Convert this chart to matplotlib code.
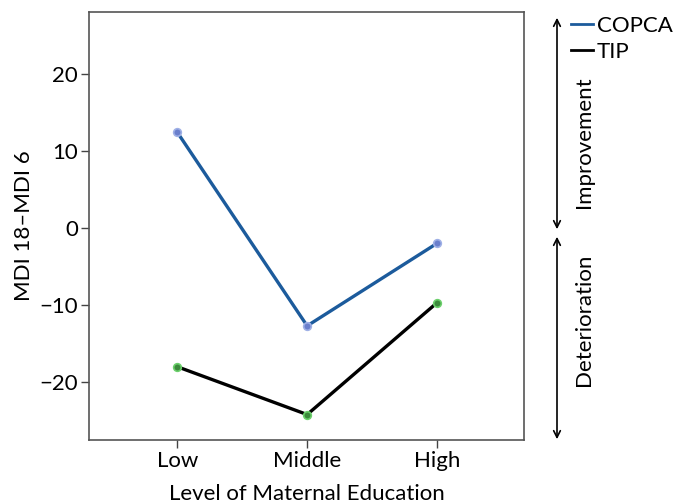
import matplotlib
matplotlib.use("Agg")
import matplotlib.pyplot as plt

categories = ["Low", "Middle", "High"]
copca = [12.4, -12.7, -2.0]
tip = [-18.0, -24.2, -9.7]
yticks = [-20, -10, 0, 10, 20]

plt.rcParams['font.family'] = ['Lato', 'DejaVu Sans']
FS = 16

fig = plt.figure(figsize=(6.77, 5.04), dpi=100)
ax = fig.add_axes([89/677, 1-440/504, (524-89)/677, (440-12)/504])

x = list(range(1, len(categories)+1))
ax.plot(x, copca, color='#1c5b9c', lw=2.4, marker='o', ms=5.5,
        mfc='#6a7fcc', mec='#9fb0e6', mew=1.2, label='COPCA', zorder=3)
ax.plot(x, tip, color='black', lw=2.4, marker='o', ms=5.5,
        mfc='#3c8a3c', mec='#6cd06c', mew=1.2, label='TIP', zorder=3)

ax.set_xlim(0.32, 3.67)
ax.set_ylim(-27.5, 28.0)
ax.set_xticks(x)
ax.set_xticklabels(categories)
ax.set_yticks(yticks)
ax.set_yticklabels([str(v).replace('-', '\u2212') for v in yticks])
ax.tick_params(axis='both', labelsize=FS, length=6, width=1, color='#444444', pad=2)
for s in ax.spines.values():
    s.set_color('#555555')
    s.set_linewidth(1.2)
ax.set_xlabel('Level of Maternal Education', fontsize=FS, labelpad=9)
ax.set_ylabel('MDI 18\u2013MDI 6', fontsize=FS, labelpad=4)

# Legend
from matplotlib.lines import Line2D
handles = [Line2D([], [], color='#1c5b9c', lw=2.0), Line2D([], [], color='black', lw=2.0)]
fig.legend(handles, ['COPCA', 'TIP'], loc='upper left', bbox_to_anchor=(571/677, 1-16/504),
           frameon=False, fontsize=FS, handlelength=1.0, handletextpad=0.15,
           labelspacing=0.25, borderaxespad=0, borderpad=0)

# Improvement / Deterioration arrows
def fy(py):
    return 1 - py/504
ax_x = 557/677
fig.add_artist(matplotlib.patches.FancyArrowPatch((ax_x, fy(15)), (ax_x, fy(232)),
               transform=fig.transFigure, arrowstyle='<->', mutation_scale=12, lw=1.2, color='black'))
fig.add_artist(matplotlib.patches.FancyArrowPatch((ax_x, fy(234)), (ax_x, fy(442)),
               transform=fig.transFigure, arrowstyle='<->', mutation_scale=12, lw=1.2, color='black'))
fig.text(584/677, fy(142), 'Improvement', rotation=90, ha='center', va='center', fontsize=FS)
fig.text(584/677, fy(320), 'Deterioration', rotation=90, ha='center', va='center', fontsize=FS)

fig.savefig('out.png', dpi=100)
